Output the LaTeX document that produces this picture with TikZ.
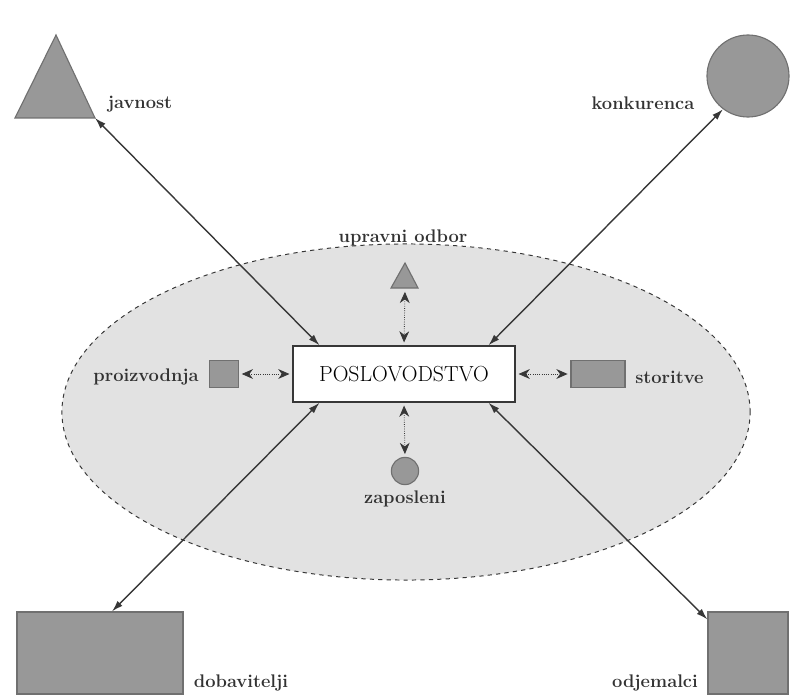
\documentclass[tikz,border=0pt]{standalone}
\usetikzlibrary{arrows.meta,positioning,shapes.geometric}
\definecolor{shapegray}{RGB}{152,152,152}
\definecolor{shapeedge}{RGB}{112,112,112}
\definecolor{fieldgray}{RGB}{226,226,226}
\definecolor{linegray}{RGB}{55,55,55}

\begin{document}
\begin{tikzpicture}[x=0.025cm, y=-0.025cm,
      party/.style={fill=shapegray, draw=shapeedge, line width=0.8pt, inner sep=0pt},
      lbl/.style={font=\fontsize{13}{15}\selectfont\bfseries, text=black!80, inner sep=0pt},
      link/.style={{Latex[length=8pt,width=5pt]}-{Latex[length=8pt,width=5pt]}, line width=1pt, draw=linegray},
      inlink/.style={{Stealth[length=8pt,width=7pt]}-{Stealth[length=8pt,width=7pt]}, densely dotted, line width=0.6pt, draw=linegray, shorten <=2pt, shorten >=2pt}
    ]
      \useasboundingbox (0,0) rectangle (790,696);

      % Company field
      \node[ellipse, draw=linegray, dashed, fill=fieldgray, line width=0.7pt, minimum width=17.2cm, minimum height=8.4cm] (field) at (406,412) {};

      % Management in the middle
      \node[draw=linegray, fill=white, line width=1pt, minimum width=5.55cm, minimum height=1.4cm, font=\fontsize{15.5}{18}\selectfont] (lead) at (404,374) {POSLOVODSTVO};

      % Inner parties
      \filldraw[party] (391,288) -- (418,288) -- (405,263) -- cycle;
      \coordinate (board) at (405,289);
      \node[lbl] (boardlbl) at (403,238) {upravni odbor};
      \node[party, circle, minimum size=0.68cm] (staff) at (405,471) {};
      \node[lbl] (stafflbl) at (405,499) {zaposleni};
      \node[party, minimum width=0.72cm, minimum height=0.68cm] (prod) at (224,374) {};
      \node[lbl, anchor=east] (prodlbl) at (199,377) {proizvodnja};
      \node[party, minimum width=1.35cm, minimum height=0.68cm] (serv) at (598,374) {};
      \node[lbl, anchor=west] (servlbl) at (635,377) {storitve};

      % Outer parties
      \filldraw[party] (15,118) -- (95,118) -- (56,35) -- cycle;
      \coordinate (public) at (95,118);
      \node[lbl] (publbl) at (140,104) {javnost};
      \node[party, circle, minimum size=2.05cm] (comp) at (748,76) {};
      \node[lbl] (complbl) at (643,103) {konkurenca};
      \node[party, minimum width=4.15cm, minimum height=2.05cm] (sup) at (100,653) {};
      \node[lbl] (suplbl) at (241,683) {dobavitelji};
      \node[party, minimum width=2cm, minimum height=2.05cm] (cust) at (748,653) {};
      \node[lbl] (custlbl) at (655,683) {odjemalci};

      % Long connectors
      \draw[link] (public) -- ([xshift=0.68cm]lead.north west);
      \draw[link] (comp.233) -- ([xshift=-0.68cm]lead.north east);
      \draw[link] ([xshift=0.68cm]lead.south west) -- ([xshift=0.3cm]sup.north);
      \draw[link] ([xshift=-0.68cm]lead.south east) -- ([yshift=-0.2cm]cust.north west);

      % Short connectors
      \draw[inlink] (board) -- (lead.north);
      \draw[inlink] (lead.south) -- (staff.north);
      \draw[inlink] (prod.east) -- (lead.west);
      \draw[inlink] (lead.east) -- (serv.west);
    \end{tikzpicture}
\end{document}
